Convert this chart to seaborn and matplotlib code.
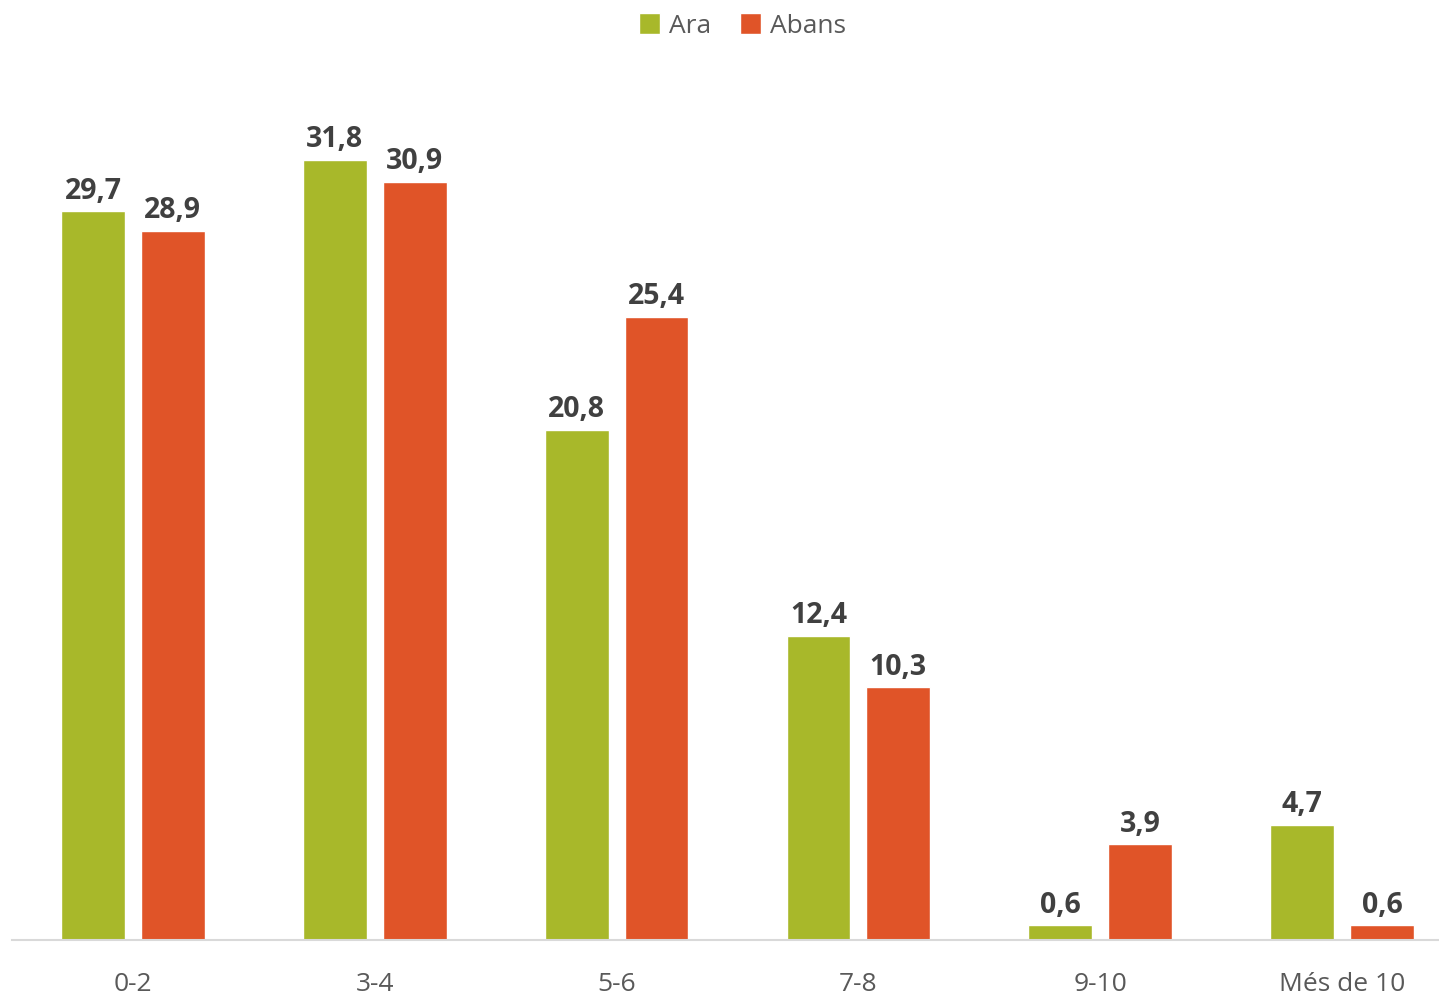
import numpy as np
import pandas as pd
import matplotlib
matplotlib.use('Agg')
import matplotlib.pyplot as plt
import seaborn as sns

# data
categories = ['0-2', '3-4', '5-6', '7-8', '9-10', 'Més de 10']
ara = [29.7, 31.8, 20.8, 12.4, 0.6, 4.7]
abans = [28.9, 30.9, 25.4, 10.3, 3.9, 0.6]
series_names = ['Ara', 'Abans']
colors = ['#A8B82A', '#E05428']

df = pd.DataFrame({
    'categoria': categories * 2,
    'valor': ara + abans,
    'serie': [series_names[0]] * len(categories) + [series_names[1]] * len(categories),
})

sns.set_style('white')
plt.rcParams['font.family'] = ['Open Sans', 'DejaVu Sans']

fig = plt.figure(figsize=(14.39, 10), dpi=100)
# axes spans a bit past the right edge, like the original
ax = fig.add_axes([12 / 1439, 0.06, 1451 / 1439, 0.89])

sns.barplot(data=df, x='categoria', y='valor', hue='serie', order=categories,
            hue_order=series_names, palette=colors, width=0.66, gap=0.2,
            saturation=1, ax=ax, legend=True)

ax.set_xlim(-0.5, 5.5)
ax.set_ylim(0, 36.28)
ax.set_xlabel('')
ax.set_ylabel('')
ax.set_yticks([])
for s in ['top', 'left', 'right']:
    ax.spines[s].set_visible(False)
ax.spines['bottom'].set_color('#D9D9D9')
ax.spines['bottom'].set_linewidth(1.5)
ax.tick_params(axis='x', length=0, pad=23, labelsize=19, labelcolor='#595959')

# data labels with comma decimal
for cont in ax.containers:
    ax.bar_label(cont, labels=[f'{v:.1f}'.replace('.', ',') for v in cont.datavalues],
                 padding=4, fontsize=20.5, fontweight='bold', color='#404040')

# legend on top
handles, labels = ax.get_legend_handles_labels()
ax.get_legend().remove()
fig.legend(handles, labels, loc='center', bbox_to_anchor=(0.516, 0.974), ncol=2,
           frameon=False, fontsize=19, labelcolor='#595959', handlelength=0.8,
           handleheight=0.8, handletextpad=0.35, columnspacing=1.1, borderaxespad=0)

fig.savefig('out.png', dpi=100)
